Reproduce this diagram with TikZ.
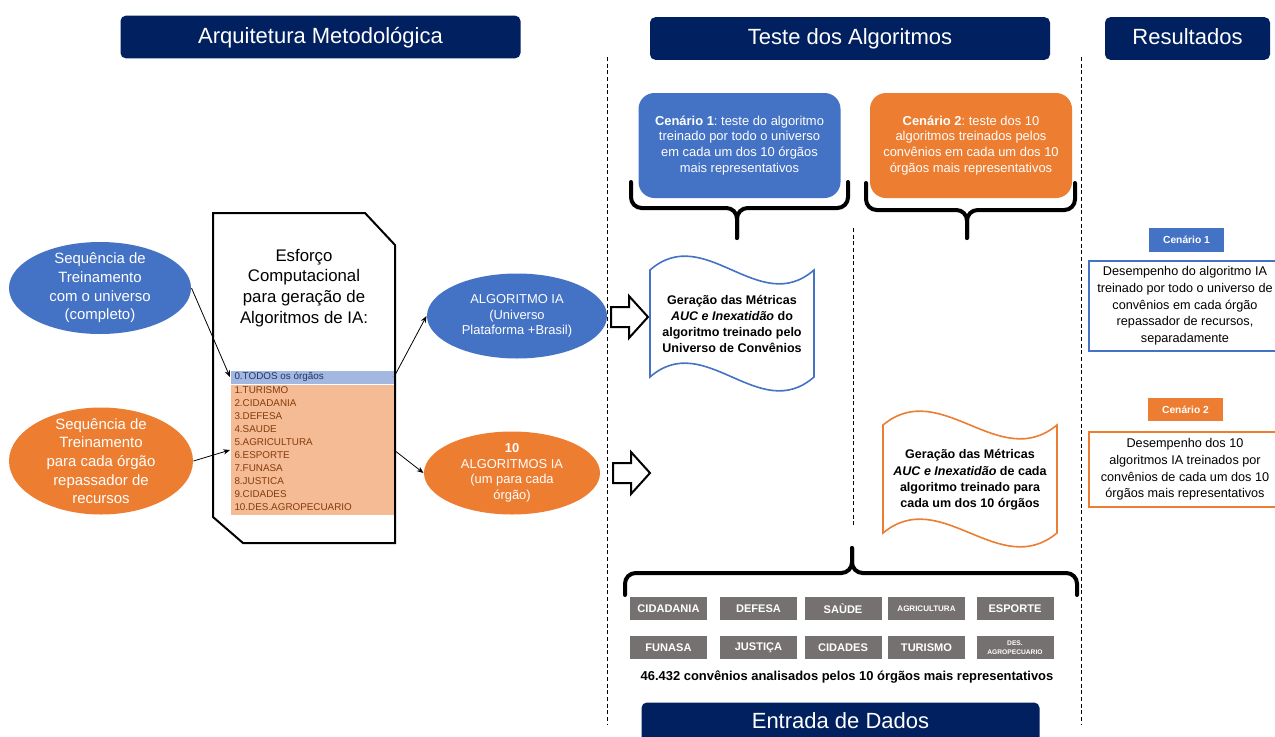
\documentclass[tikz,border=0pt]{standalone}
\usepackage{fontspec}
\setmainfont{Liberation Sans}
\usetikzlibrary{shapes.geometric,arrows.meta}
\tikzset{every picture/.style={line width=0.75pt}}
\frenchspacing

\definecolor{azulEscuro}{RGB}{0,32,96}
\definecolor{azul}{RGB}{68,114,196}
\definecolor{laranja}{RGB}{237,125,49}
\definecolor{azulClaro}{RGB}{162,184,224}
\definecolor{laranjaClaro}{RGB}{245,187,148}
\definecolor{cinza}{RGB}{118,113,113}
\definecolor{azulTexto}{RGB}{31,56,100}
\definecolor{marrom}{RGB}{132,60,12}

\tikzset{
  titulo/.style={fill=azulEscuro, rounded corners=4pt, text=white, minimum height=32pt, text height=13.6pt, text depth=4pt, font=\fontsize{16.5}{19}\selectfont},
  elipse/.style={ellipse, inner sep=0pt},
  txtBranco/.style={text=white, align=center},
  conector/.style={-{Stealth[length=5pt,width=4pt]}, line width=0.6pt},
  seta/.style={draw=black, fill=white, line width=1.5pt, line join=miter},
  chave/.style={line width=3pt, rounded corners=8pt, line cap=round},
  divisoria/.style={dash pattern=on 3pt off 2pt, line width=0.6pt},
  itemLista/.style={anchor=west, inner sep=0pt, text=marrom, font=\fontsize{7.4}{9}\selectfont},
  cenario/.style={rounded corners=12pt, text=white, align=center, minimum width=151.5pt, minimum height=78.75pt, font=\fontsize{9.7}{11.9}\selectfont},
  txtMetrica/.style={align=center, font=\bfseries\fontsize{9.4}{12.2}\selectfont},
  orgao/.style={fill=cinza, text=white, align=center, inner sep=0pt, minimum width=57.75pt, minimum height=17.25pt, font=\bfseries\fontsize{8.3}{9}\selectfont},
  orgaoMini/.style={orgao, font=\bfseries\fontsize{6}{7}\selectfont},
  orgaoMicro/.style={orgao, font=\bfseries\fontsize{5}{6.3}\selectfont},
  rotulo/.style={text=white, minimum width=56pt, minimum height=17.5pt, inner sep=0pt, font=\bfseries\fontsize{7.7}{9}\selectfont},
  desempenho/.style={fill=white, line width=1.2pt, align=center, minimum width=144pt, font=\fontsize{9.5}{12.5}\selectfont},
}

\begin{document}
\begin{tikzpicture}[x=0.75pt,y=0.75pt,yscale=-1,xscale=1]
\useasboundingbox[fill=white] (0,0) rectangle (1275,736);
\clip (0,0) rectangle (1275,736);

%Titles
\node[titulo, minimum width=300pt] (arquitetura) at (320.5,37) {Arquitetura Metodológica};
\node[titulo, minimum width=300pt] (teste) at (850,38.5) {Teste dos Algoritmos};
\node[titulo, minimum width=123.75pt] (resultados) at (1187.5,38.5) {Resultados};
\node[titulo, minimum width=298.5pt, minimum height=30pt, anchor=north] (entrada) at (840.5,702) {Entrada de Dados};

%Dashed dividers
\draw[divisoria] (607,57) -- (607,724);
\draw[divisoria] (1081,57) -- (1081,724);
\draw[divisoria] (853,228) -- (853,525);

%Shape: Ellipses training sequences
\node[elipse, fill=azul, minimum width=136.5pt, minimum height=69pt,
  label={[txtBranco, font=\fontsize{11.2}{14}\selectfont]center:Sequência de\\Treinamento\\com o universo\\(completo)}] (seqUniverso) at (100,288) {};
\node[elipse, fill=laranja, minimum width=138pt, minimum height=80.25pt,
  label={[txtBranco, font=\fontsize{11.2}{14}\selectfont]center:Sequência de\\Treinamento\\para cada órgão\\repassador de\\recursos}] (seqOrgao) at (101,461) {};

%Shape: Snipped box
\draw[line width=1.5pt] (213,213) -- (365,213) -- (395,245) -- (395,543) -- (243,543) -- (213,517) -- cycle;
% Text Node
\node[align=center, font=\fontsize{12.6}{15.6}\selectfont] (esforco) at (304,288) {Esforço\\Computacional\\para geração de\\Algoritmos de IA:};

%List of agencies
\node[fill=azulClaro, inner sep=0pt, minimum width=122.25pt, minimum height=9.75pt, anchor=north west] (todos) at (230,370) {};
\node[fill=laranjaClaro, inner sep=0pt, minimum width=122.25pt, minimum height=97.5pt, anchor=north west] (orgaos) at (230,384.5) {};
\node[itemLista, text=azulTexto] (item0) at (234,377) {0.TODOS os órgãos};
\foreach \n [count=\i] in {TURISMO,CIDADANIA,DEFESA,SAUDE,AGRICULTURA,ESPORTE,FUNASA,JUSTICA,CIDADES,DES.AGROPECUARIO}
  \node[itemLista] (item\i) at (234,{377+13*\i}) {\i.\n};

%Shape: Ellipses algorithms
\node[elipse, fill=azul, minimum width=135pt, minimum height=63.75pt,
  label={[txtBranco, font=\fontsize{9.7}{11.6}\selectfont]center:ALGORITMO IA\\(Universo\\Plataforma +Brasil)}] (algUniverso) at (517,316) {};
\node[elipse, fill=laranja, minimum width=132pt, minimum height=62.25pt,
  label={[txtBranco, font=\fontsize{9.7}{11.6}\selectfont]center:\textbf{10}\\ALGORITMOS IA\\(um para cada\\órgão)}] (algOrgaos) at (512,473) {};

%Straight Lines
\draw[conector] (seqUniverso.east) -- (todos.west);
\draw[conector] (seqOrgao.east) -- (orgaos.west);
\draw[conector] (todos.east) -- (algUniverso.west);
\draw[conector] (orgaos.east) -- (algOrgaos.west);

%Shape: Block arrows
\draw[seta] (611,307) -- ++(18,0) -- ++(0,-11) -- ++(19,21) -- ++(-19,21) -- ++(0,-11) -- ++(-18,0) -- cycle;
\draw[seta] (613,463) -- ++(18,0) -- ++(0,-11) -- ++(19,21) -- ++(-19,21) -- ++(0,-11) -- ++(-18,0) -- cycle;

%Shape: Scenario boxes
\node[cenario, fill=azul] (cenario1) at (739.5,145.5) {\textbf{Cenário 1}: teste do algoritmo\\treinado por todo o universo\\em cada um dos 10 órgãos\\mais representativos};
\node[cenario, fill=laranja] (cenario2) at (971,145.5) {\textbf{Cenário 2}: teste dos 10\\algoritmos treinados pelos\\convênios em cada um dos 10\\órgãos mais representativos};

%Braces
\draw[chave] (631,182) |- (737,208) -- (737,238);
\draw[chave] (848,182) |- (737,208) -- (737,238);
\draw[chave] (866,183) |- (967,210) -- (967,238);
\draw[chave] (1075,183) |- (967,210) -- (967,238);
\draw[chave] (625,595) |- (852,573) -- (852,548);
\draw[chave] (1077,595) |- (852,573) -- (852,548);

%Shape: Wave documents
\draw[draw=azul, line width=1.2pt] (650,270) .. controls (705,222) and (759,318) .. (814,270) -- (814,377) .. controls (759,425) and (705,329) .. (650,377) -- cycle;
\node[txtMetrica] (metricaUniverso) at (732,324) {Geração das Métricas\\\textit{AUC e Inexatidão} do\\algoritmo treinado pelo\\Universo de Convênios};
\draw[draw=laranja, line width=1.2pt] (883,425) .. controls (941,377) and (999,473) .. (1057,425) -- (1057,533) .. controls (999,581) and (941,485) .. (883,533) -- cycle;
\node[txtMetrica] (metricaOrgaos) at (970,480) {Geração das Métricas\\\textit{AUC e Inexatidão} de cada\\algoritmo treinado para\\cada um dos 10 órgãos};

%Agency boxes
\foreach \nome/\x/\estilo [count=\k] in {CIDADANIA/668.5/orgao, DEFESA/758.5/orgao, SAÙDE/843/orgao, AGRICULTURA/926.5/orgaoMini, ESPORTE/1015/orgao}
  \node[\estilo] (linhaA\k) at (\x,608.5) {\nome};
\foreach \nome/\x/\estilo [count=\k] in {FUNASA/668.5/orgao, JUSTIÇA/758.5/orgao, CIDADES/843/orgao, TURISMO/926.5/orgao, {DES.\\AGROPECUARIO}/1015/orgaoMicro}
  \node[\estilo] (linhaB\k) at (\x,647.5) {\nome};
% Text Node
\node[font=\bfseries\fontsize{9.7}{11}\selectfont] (totalConvenios) at (847,677) {46.432 convênios analisados pelos 10 órgãos mais representativos};

%Results
\node[rotulo, fill=azul] (rotuloC1) at (1186.5,240) {Cenário 1};
\node[desempenho, draw=azul, minimum height=67.5pt] (desempenho1) at (1185,306) {Desempenho do algoritmo IA\\treinado por todo o universo de\\convênios em cada órgão\\repassador de recursos,\\separadamente};
\node[rotulo, fill=laranja] (rotuloC2) at (1185.5,409.5) {Cenário 2};
\node[desempenho, draw=laranja, minimum height=56.25pt] (desempenho2) at (1185,469.5) {Desempenho dos 10\\algoritmos IA treinados por\\convênios de cada um dos 10\\órgãos mais representativos};

\end{tikzpicture}
\end{document}
